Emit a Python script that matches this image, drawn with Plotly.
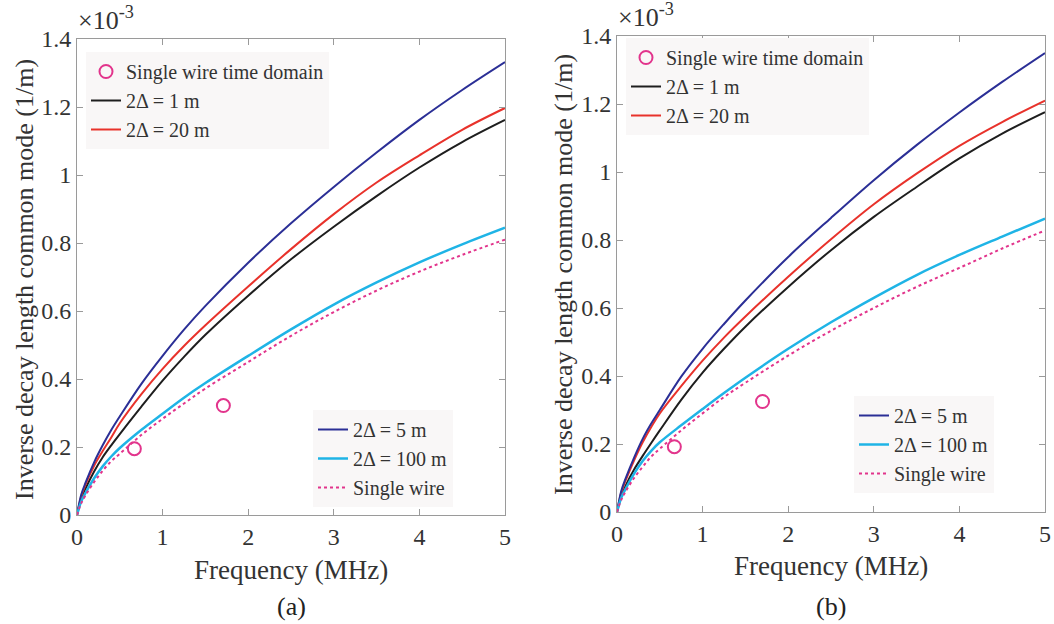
import plotly.graph_objects as go

# Frequency grid (MHz)
freq = [0, 0.05, 0.1, 0.2, 0.3, 0.4, 0.5, 0.75, 1, 1.25, 1.5, 2, 2.5, 3, 3.5, 4, 4.5, 5]

# Panel (a) values, in units of 1e-3 1/m
a_d5   = [0, 0.060, 0.095, 0.155, 0.205, 0.250, 0.290, 0.385, 0.468, 0.545, 0.615, 0.742, 0.858, 0.965, 1.066, 1.162, 1.250, 1.332]
a_d20  = [0, 0.055, 0.090, 0.145, 0.188, 0.228, 0.270, 0.355, 0.430, 0.497, 0.558, 0.672, 0.782, 0.885, 0.978, 1.058, 1.133, 1.197]
a_d1   = [0, 0.048, 0.078, 0.128, 0.170, 0.205, 0.238, 0.318, 0.395, 0.465, 0.530, 0.645, 0.752, 0.848, 0.938, 1.022, 1.097, 1.162]
a_d100 = [0, 0.040, 0.065, 0.108, 0.143, 0.172, 0.197, 0.250, 0.298, 0.345, 0.388, 0.468, 0.546, 0.619, 0.684, 0.743, 0.796, 0.845]
a_sw   = [0, 0.035, 0.058, 0.097, 0.130, 0.158, 0.180, 0.235, 0.283, 0.328, 0.372, 0.450, 0.527, 0.597, 0.660, 0.716, 0.765, 0.810]
a_td_f = [0.67, 1.71]
a_td_v = [0.195, 0.322]

# Panel (b) values, in units of 1e-3 1/m
b_d5   = [0, 0.062, 0.098, 0.160, 0.215, 0.260, 0.300, 0.398, 0.480, 0.553, 0.622, 0.750, 0.865, 0.976, 1.079, 1.175, 1.265, 1.350]
b_d20  = [0, 0.057, 0.092, 0.152, 0.205, 0.250, 0.290, 0.370, 0.445, 0.513, 0.575, 0.692, 0.802, 0.905, 0.995, 1.077, 1.147, 1.210]
b_d1   = [0, 0.047, 0.077, 0.125, 0.165, 0.203, 0.240, 0.330, 0.410, 0.480, 0.545, 0.662, 0.770, 0.868, 0.956, 1.040, 1.113, 1.176]
b_d100 = [0, 0.042, 0.068, 0.113, 0.150, 0.180, 0.205, 0.255, 0.303, 0.350, 0.395, 0.480, 0.558, 0.630, 0.697, 0.756, 0.810, 0.863]
b_sw   = [0, 0.036, 0.060, 0.100, 0.133, 0.163, 0.186, 0.240, 0.290, 0.338, 0.380, 0.460, 0.533, 0.600, 0.662, 0.718, 0.775, 0.828]
b_td_f = [0.67, 1.70]
b_td_v = [0.192, 0.325]

x_ticks = [0, 1, 2, 3, 4, 5]
y_ticks = [0, 0.2, 0.4, 0.6, 0.8, 1.0, 1.2, 1.4]
y_ticktext = ["0", "0.2", "0.4", "0.6", "0.8", "1", "1.2", "1.4"]

C_BLUE = "#2b2f96"
C_RED = "#e8322b"
C_BLACK = "#1e1e1e"
C_CYAN = "#1fb4e6"
C_PINK = "#e2348c"

FONT = "Liberation Serif, Times New Roman, serif"
TXT = "#333333"

fig = go.Figure()


def add_panel(xa, ya, td_f, td_v, d1, d20, d5, d100, sw, lg_top, lg_bot):
    fig.add_trace(go.Scatter(x=td_f, y=td_v, mode="markers", name="Single wire time domain",
                             marker=dict(symbol="circle-open", size=13, color=C_PINK, line=dict(width=2, color=C_PINK)),
                             xaxis=xa, yaxis=ya, legend=lg_top))
    fig.add_trace(go.Scatter(x=freq, y=d1, mode="lines", name="2Δ = 1 m", line=dict(color=C_BLACK, width=2, shape="spline"),
                             xaxis=xa, yaxis=ya, legend=lg_top))
    fig.add_trace(go.Scatter(x=freq, y=d20, mode="lines", name="2Δ = 20 m", line=dict(color=C_RED, width=2, shape="spline"),
                             xaxis=xa, yaxis=ya, legend=lg_top))
    fig.add_trace(go.Scatter(x=freq, y=d5, mode="lines", name="2Δ = 5 m", line=dict(color=C_BLUE, width=2, shape="spline"),
                             xaxis=xa, yaxis=ya, legend=lg_bot))
    fig.add_trace(go.Scatter(x=freq, y=d100, mode="lines", name="2Δ = 100 m", line=dict(color=C_CYAN, width=2.5, shape="spline"),
                             xaxis=xa, yaxis=ya, legend=lg_bot))
    fig.add_trace(go.Scatter(x=freq, y=sw, mode="lines", name="Single wire", line=dict(color=C_PINK, width=2, dash="dot", shape="spline"),
                             xaxis=xa, yaxis=ya, legend=lg_bot))


add_panel("x", "y", a_td_f, a_td_v, a_d1, a_d20, a_d5, a_d100, a_sw, "legend", "legend2")
add_panel("x2", "y2", b_td_f, b_td_v, b_d1, b_d20, b_d5, b_d100, b_sw, "legend3", "legend4")

W, H = 1054, 624

axis_common = dict(showline=True, mirror="ticks", linecolor="#9a9a9a", linewidth=1, automargin=False,
                   ticks="inside", ticklen=6, tickcolor="#9a9a9a", showgrid=False, zeroline=False,
                   tickfont=dict(family=FONT, size=24, color=TXT))

fig.update_layout(
    width=W, height=H,
    margin=dict(l=0, r=0, t=0, b=0, autoexpand=False),
    paper_bgcolor="white", plot_bgcolor="white",
    font=dict(family=FONT, color=TXT),
    showlegend=True,
    xaxis=dict(domain=[77 / W, 505 / W], range=[0, 5], tickvals=x_ticks, anchor="y", **axis_common),
    yaxis=dict(domain=[1 - 515 / H, 1 - 39 / H], range=[0, 1.4], tickvals=y_ticks, ticktext=y_ticktext, anchor="x", **axis_common),
    xaxis2=dict(domain=[617 / W, 1045 / W], range=[0, 5], tickvals=x_ticks, anchor="y2", **axis_common),
    yaxis2=dict(domain=[1 - 512 / H, 1 - 36 / H], range=[0, 1.4], tickvals=y_ticks, ticktext=y_ticktext, anchor="x2", **axis_common),
)

leg_common = dict(bgcolor="#f9f7f7", borderwidth=0, font=dict(family=FONT, size=20, color=TXT),
                  xanchor="left", yanchor="top", tracegroupgap=0, itemwidth=30)

fig.update_layout(
    legend=dict(x=86 / W, y=1 - 52 / H, **leg_common),
    legend2=dict(x=313 / W, y=1 - 410 / H, **leg_common),
    legend3=dict(x=626 / W, y=1 - 38 / H, **leg_common),
    legend4=dict(x=854 / W, y=1 - 396 / H, **leg_common),
)

ann = []
for cx, cy, ycx, ycy, mx, my, lab, lx, ly in [
    (291, 570, 24, 280, 76, 18, "(a)", 291, 606),
    (831, 566, 563, 275, 616, 15, "(b)", 831, 606),
]:
    ann.append(dict(text="Frequency (MHz)", x=cx / W, y=1 - cy / H, xref="paper", yref="paper",
                    showarrow=False, font=dict(family=FONT, size=27, color=TXT), xanchor="center", yanchor="middle"))
    ann.append(dict(text="Inverse decay length common mode (1/m)", x=ycx / W, y=1 - ycy / H, xref="paper", yref="paper",
                    showarrow=False, textangle=-90, font=dict(family=FONT, size=26, color=TXT), xanchor="center", yanchor="middle"))
    ann.append(dict(text="×10<sup>-3</sup>", x=mx / W, y=1 - my / H, xref="paper", yref="paper",
                    showarrow=False, font=dict(family=FONT, size=26, color=TXT), xanchor="left", yanchor="middle"))
    ann.append(dict(text=lab, x=lx / W, y=1 - ly / H, xref="paper", yref="paper",
                    showarrow=False, font=dict(family=FONT, size=26, color="#222222"), xanchor="center", yanchor="middle"))

fig.update_layout(annotations=ann)

fig.write_html("out.html", config={"displayModeBar": False},
               post_script="document.body.style.margin='0px';document.body.style.overflow='hidden';")
